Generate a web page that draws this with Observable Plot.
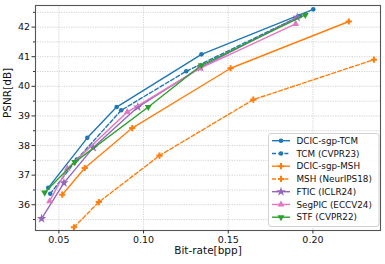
<!DOCTYPE html>
<html><head><meta charset="utf-8">
<script src="https://cdn.jsdelivr.net/npm/d3@7"></script>
<script src="https://cdn.jsdelivr.net/npm/@observablehq/plot@0.6"></script>
<style>body{margin:0;background:#fff;} #chart{width:385px;height:264px;}</style>
</head><body><div id="chart"></div>
<script>
// ---- data ----
const seriesNames = ["DCIC-sgp-TCM","TCM (CVPR23)","DCIC-sgp-MSH","MSH (NeurIPS18)","FTIC (ICLR24)","SegPIC (ECCV24)","STF (CVPR22)"];
const bppDcicTcm = [0.0437,0.0668,0.0841,0.1342,0.2002];
const psnrDcicTcm = [36.57,38.26,39.30,41.08,42.60];
const bppTcm = [0.0449,0.0606,0.0868,0.1252,0.1923];
const psnrTcm = [36.37,37.53,39.19,40.51,42.37];
const bppDcicMsh = [0.0520,0.0653,0.0933,0.1514,0.2212];
const psnrDcicMsh = [36.34,37.24,38.59,40.61,42.19];
const bppMsh = [0.0589,0.0736,0.1094,0.1648,0.2360];
const psnrMsh = [35.24,36.09,37.66,39.55,40.90];
const bppFtic = [0.0398,0.0530,0.0703,0.0966,0.1337,0.1907];
const psnrFtic = [35.53,36.74,37.93,39.30,40.64,42.33];
const bppSegpic = [0.0445,0.0550,0.0904,0.1330,0.1898];
const psnrSegpic = [36.12,37.22,39.13,40.60,42.11];
const bppStf = [0.0416,0.0594,0.1028,0.1341,0.1955];
const psnrStf = [36.41,37.44,39.30,40.71,42.41];
const xTicks = [0.05,0.10,0.15,0.20];
const yTicks = [36,37,38,39,40,41,42];
const yMinorTicks = [35.5,36.5,37.5,38.5,39.5,40.5,41.5,42.5];

// ---- styles ----
const sqrt3 = Math.sqrt(3);
const triangleDown = {draw(context, size){ const y = -Math.sqrt(size/(sqrt3*3)); context.moveTo(0,-y*2); context.lineTo(-sqrt3*y, y); context.lineTo(sqrt3*y, y); context.closePath(); }};
const seriesBpp = [bppDcicTcm,bppTcm,bppDcicMsh,bppMsh,bppFtic,bppSegpic,bppStf];
const seriesPsnr = [psnrDcicTcm,psnrTcm,psnrDcicMsh,psnrMsh,psnrFtic,psnrSegpic,psnrStf];
const seriesColors = ["#1f77b4","#1f77b4","#ff7f0e","#ff7f0e","#9467bd","#e377c2","#2ca02c"];
const seriesDash = [null,"4,2.2",null,"4,2.2",null,null,null];
const seriesSymbols = [d3.symbolCircle,d3.symbolCircle,d3.symbolCross,d3.symbolCross,d3.symbolStar,d3.symbolTriangle,triangleDown];
const seriesR = [2.3,2.3,2.6,2.6,3.0,2.6,2.6];

const tables = seriesNames.map((name,i)=>seriesBpp[i].map((b,j)=>({name, bpp:b, psnr:seriesPsnr[i][j]})));

const gridStyle = {stroke:"#c8c8c8", strokeOpacity:1, strokeWidth:0.8, strokeDasharray:"1.2,1.2"};
const marks = [
  Plot.gridY(yTicks.concat(yMinorTicks), gridStyle),
  Plot.gridX(xTicks, gridStyle)
];
tables.forEach((t,i)=>{
  marks.push(Plot.line(t,{x:"bpp",y:"psnr",stroke:seriesColors[i],strokeWidth:1.4,strokeDasharray:seriesDash[i]}));
  marks.push(Plot.dot(t,{x:"bpp",y:"psnr",fill:seriesColors[i],stroke:"none",symbol:seriesSymbols[i],r:seriesR[i]}));
});
marks.push(
  Plot.frame({stroke:"#555", strokeWidth:1.1}),
  Plot.axisX(xTicks,{tickFormat:d3.format(".2f"), tickSize:3.5, tickPadding:2, label:null, stroke:"#333", fontSize:9.5}),
  Plot.axisY(yTicks,{tickFormat:d=>String(d), tickSize:3.5, tickPadding:2, label:null, stroke:"#333", fontSize:9.5}),
  Plot.axisY(yMinorTicks,{tickFormat:()=>"", tickSize:2, label:null, stroke:"#333"}),
  Plot.text(["PSNR[dB]"],{frameAnchor:"left", dx:-28, rotate:-90, fontSize:10.5, fill:"#111"}),
  Plot.text(["Bit-rate[bpp]"],{frameAnchor:"bottom", dy:23, fontSize:10.5, fill:"#111"})
);

const plot = Plot.plot({
  width:385, height:264,
  marginLeft:35, marginRight:5, marginTop:5, marginBottom:34,
  x:{domain:[0.0362,0.2399]},
  y:{domain:[35.13,42.73]},
  style:{fontFamily:"DejaVu Sans", fontSize:"9px", color:"#111", background:"#fff"},
  marks
});

// legend
const svg = d3.select(plot);
const lg = svg.append("g").attr("font-family","DejaVu Sans").attr("font-size",8.8).attr("fill","#111").attr("text-anchor","start");
lg.append("rect").attr("x",268.5).attr("y",133.5).attr("width",110.5).attr("height",93).attr("rx",2.5)
  .attr("fill","#fff").attr("fill-opacity",0.85).attr("stroke","#cccccc").attr("stroke-width",0.9);
seriesNames.forEach((name,i)=>{
  const cy = 140.7 + i*12.75;
  lg.append("line").attr("x1",272).attr("x2",290).attr("y1",cy).attr("y2",cy)
    .attr("stroke",seriesColors[i]).attr("stroke-width",1.4).attr("stroke-dasharray",seriesDash[i]);
  lg.append("path").attr("d",d3.symbol(seriesSymbols[i], Math.PI*seriesR[i]*seriesR[i])())
    .attr("transform",`translate(281,${cy})`).attr("fill",seriesColors[i]);
  lg.append("text").attr("x",296.5).attr("y",cy).attr("dy","0.35em").attr("text-anchor","start").text(name);
});

document.getElementById("chart").appendChild(plot);
</script></body></html>
